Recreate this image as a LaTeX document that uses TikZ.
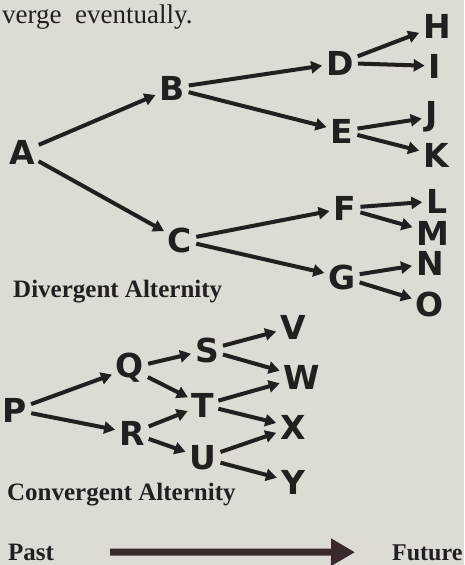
\documentclass[tikz,border=0pt]{standalone}
\usepackage{fontspec}
\setmainfont{Liberation Serif}
\newfontfamily\handfont{DejaVu Sans}
\usetikzlibrary{arrows.meta}

\definecolor{paper}{HTML}{DEDBD4}
\definecolor{ink}{HTML}{231E1F}
\definecolor{timeink}{HTML}{3A2A2E}

\tikzset{
  letter/.style={font=\handfont\bfseries\fontsize{33}{33}\selectfont, text=ink, inner sep=1pt},
  branch/.style={-{Triangle[length=11pt,width=12pt]}, line width=4pt, draw=ink, shorten <=3pt, shorten >=3pt},
  caption/.style={font=\bfseries\fontsize{25}{25}\selectfont, text=ink, anchor=base west, inner sep=0pt},
  timearrow/.style={-{Triangle[length=24pt,width=26pt]}, line width=7pt, draw=timeink},
}

\begin{document}
\begin{tikzpicture}[x=1pt,y=-1pt]
    \fill[paper] (0,0) rectangle (464,565);
    \useasboundingbox (0,0) rectangle (464,565);

    \node[caption, font=\fontsize{27}{27}\selectfont] (intro) at (2,23) {verge\ \ eventually.};

    % Divergent alternity
    \node[letter] (A) at (22,152) {A};
    \node[letter] (B) at (172,88) {B};
    \node[letter] (C) at (180,240) {C};
    \node[letter] (D) at (340,63) {D};
    \node[letter] (E) at (342,131) {E};
    \node[letter] (F) at (345,208) {F};
    \node[letter] (G) at (342,277) {G};
    \node[letter] (H) at (437,26) {H};
    \node[letter] (I) at (435,66) {I};
    \node[letter] (J) at (432,117) {J};
    \node[letter] (K) at (436,155) {K};
    \node[letter] (L) at (437,201) {L};
    \node[letter] (M) at (433,233) {M};
    \node[letter] (N) at (430,263) {N};
    \node[letter] (O) at (430,304) {O};

    \draw[branch] (A) -- (B);
    \draw[branch] (A) -- (C);
    \draw[branch] (B) -- (D);
    \draw[branch] (B) -- (E);
    \draw[branch] (C) -- (F);
    \draw[branch] (C) -- (G);
    \draw[branch] (D) -- (H);
    \draw[branch] (D) -- (I);
    \draw[branch] (E) -- (J);
    \draw[branch] (E) -- (K);
    \draw[branch] (F) -- (L);
    \draw[branch] (F) -- (M);
    \draw[branch] (G) -- (N);
    \draw[branch] (G) -- (O);

    \node[caption] (divcap) at (13,297) {Divergent Alternity};

    % Convergent alternity
    \node[letter] (P) at (15,410) {P};
    \node[letter] (Q) at (130,368) {Q};
    \node[letter] (R) at (132,433) {R};
    \node[letter] (S) at (207,350) {S};
    \node[letter] (T) at (203,405) {T};
    \node[letter] (U) at (203,458) {U};
    \node[letter] (V) at (293,327) {V};
    \node[letter] (W) at (302,377) {W};
    \node[letter] (X) at (293,427) {X};
    \node[letter] (Y) at (293,482) {Y};

    \draw[branch] (P) -- (Q);
    \draw[branch] (P) -- (R);
    \draw[branch] (Q) -- (S);
    \draw[branch] (Q) -- (T);
    \draw[branch] (R) -- (T);
    \draw[branch] (R) -- (U);
    \draw[branch] (S) -- (V);
    \draw[branch] (S) -- (W);
    \draw[branch] (T) -- (W);
    \draw[branch] (T) -- (X);
    \draw[branch] (U) -- (X);
    \draw[branch] (U) -- (Y);

    \node[caption] (convcap) at (7,500) {Convergent Alternity};

    % Time axis
    \node[caption] (past) at (8,560) {Past};
    \node[caption, font=\bfseries\fontsize{24}{24}\selectfont] (future) at (392,560) {Future};
    \draw[timearrow, shorten <=56pt, shorten >=37pt] (past) -- (future);

\end{tikzpicture}
\end{document}
